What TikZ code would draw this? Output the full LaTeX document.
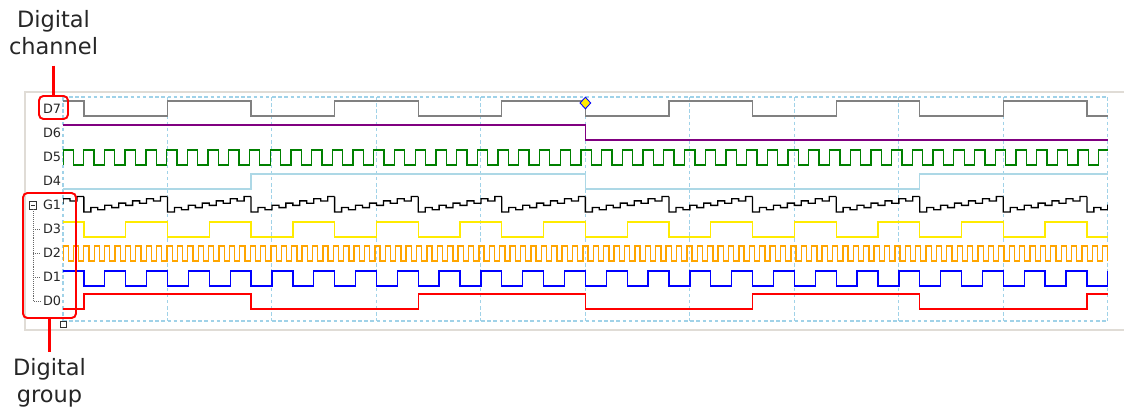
\documentclass[tikz,border=0pt]{standalone}
\usepackage{fontspec}
\setmainfont{DejaVu Sans}
\usetikzlibrary{shapes.geometric}

\definecolor{gridblue}{RGB}{160,210,232}
\definecolor{framegray}{RGB}{224,220,214}
\definecolor{wgray}{RGB}{128,128,128}
\definecolor{wpurple}{RGB}{128,0,128}
\definecolor{wgreen}{RGB}{0,128,0}
\definecolor{wlblue}{RGB}{173,216,230}
\definecolor{wyellow}{RGB}{255,235,0}
\definecolor{worange}{RGB}{255,165,0}
\definecolor{wblue}{RGB}{0,0,255}
\definecolor{wred}{RGB}{255,0,0}

\begin{document}
\begin{tikzpicture}[x=0.02cm, y=-0.02cm,
    sig/.style={line width=0.75pt, line join=miter},
    gridline/.style={gridblue, line width=0.6pt, dash pattern=on 2pt off 1.5pt},
    lbl/.style={anchor=east, inner sep=0pt, font=\fontsize{7.3}{8}\selectfont, text=black!85},
    treeline/.style={black!60, line width=0.5pt, dash pattern=on 0.5pt off 0.6pt},
    smallbox/.style={draw=black!80, line width=0.5pt, inner sep=0pt, fill=white},
    callbox/.style={draw=wred, line width=1.1pt, rounded corners=2.5pt, inner sep=0pt},
    callline/.style={draw=wred, line width=1.3pt},
    calltxt/.style={align=center, font=\fontsize{12.8}{15.3}\selectfont, text=black!85, inner sep=0pt}]
    \useasboundingbox (0,0) rectangle (1124,409);
    \draw[framegray, line width=1.2pt] (1124,92) -- (25,92) -- (25,330) -- (1124,330);
    \begin{scope}[shift={(63,0)}, x=0.418cm]
      \foreach \g in {0,5,...,50} {\draw[gridline] (\g,97) -- (\g,321);}
      \draw[gridline] (0,97) -- (50,97);
      \draw[gridline] (0,321) -- (50,321);
      \begin{scope}
        \clip (0,90) rectangle (50,330);
        \draw[sig, wgray] (0,101) \foreach \a in {1,9,...,49} { -- (\a,101) -- (\a,116) -- ({\a+4},116) -- ({\a+4},101) };
        \draw[sig, wpurple] (0,125) -- (25,125) -- (25,140) -- (50,140);
        \draw[sig, wgreen] (0,165) \foreach \k in {0,...,50} { -- ({\k*0.9914},165) -- ({\k*0.9914},150) -- ({(\k+0.5)*0.9914},150) -- ({(\k+0.5)*0.9914},165) };
        \draw[sig, wlblue] (0,189) -- (9,189) -- (9,174) -- (25,174) -- (25,189) -- (41,189) -- (41,174) -- (50,174);
        % G1 drawn as stairs, one run per D7 edge
        \foreach \s in {-3,1,...,49}
          \draw[sig, black] (\s,196.5) \foreach \j in {0,...,5} { -- ({\s+\j*2/3},{212-2.2*\j}) -- ({\s+\j*2/3+1/3},{212-2.2*\j}) -- ({\s+\j*2/3+1/3},{207.5-2.2*\j}) -- ({\s+\j*2/3+2/3},{207.5-2.2*\j}) };
        \draw[sig, wyellow] (0,222) \foreach \a in {1,5,...,49} { -- (\a,222) -- (\a,237) -- ({\a+2},237) -- ({\a+2},222) };
        \draw[sig, worange] (0,261) \foreach \k in {0,...,100} { -- ({\k*0.4976},261) -- ({\k*0.4976},246) -- ({(\k+0.5)*0.4976},246) -- ({(\k+0.5)*0.4976},261) };
        \draw[sig, wblue] (0,271) \foreach \a in {1,3,...,49} { -- (\a,271) -- (\a,286) -- ({\a+1},286) -- ({\a+1},271) };
        \draw[sig, wred] (0,309) \foreach \a in {1,17,33,49} { -- (\a,309) -- (\a,294) -- ({\a+8},294) -- ({\a+8},309) };
      \end{scope}
      \node[diamond, draw=wblue, fill=wyellow, line width=0.5pt, inner sep=0pt, minimum width=0.22cm, minimum height=0.24cm] (mark1) at (25,103) {};
    \end{scope}
    \def\chans{D7,D6,D5,D4,G1,D3,D2,D1,D0}
    %          0  1  2  3  4  5  6  7  8
    \foreach \c [count=\i from 0] in \chans {\node[lbl] (\c) at (61.5,{108.5+24.1*\i}) {\c};}
    \node[smallbox, minimum size=0.15cm] (g1box) at (33,205.3) {};
    \draw[black!80, line width=0.5pt] ([xshift=1.2pt]g1box.west) -- ([xshift=-1.2pt]g1box.east);
    \draw[treeline] (g1box.south) |- ([xshift=-1.5pt]D0.west);
    \foreach \c in {D3,D2,D1} {\draw[treeline] (g1box.south |- \c.west) -- ([xshift=-1.5pt]\c.west);}
    \node[smallbox, minimum size=0.12cm] (endbox) at (63.5,324.5) {};
    \node[callbox, minimum width=0.58cm, minimum height=0.46cm] (chbox) at (53.5,107.5) {};
    \node[callbox, minimum width=1.06cm, minimum height=2.5cm] (grbox) at (49.5,255.5) {};
    \node[calltxt] (chtxt) at (53.5,33) {Digital\\channel};
    \node[calltxt] (grtxt) at (49.5,382.7) {Digital\\group};
    \draw[callline, shorten <=5.7pt] (chtxt.south) -- (chbox.north);
    \draw[callline, shorten >=3.4pt] (grbox.south) -- (grtxt.north);
  \end{tikzpicture}
\end{document}
